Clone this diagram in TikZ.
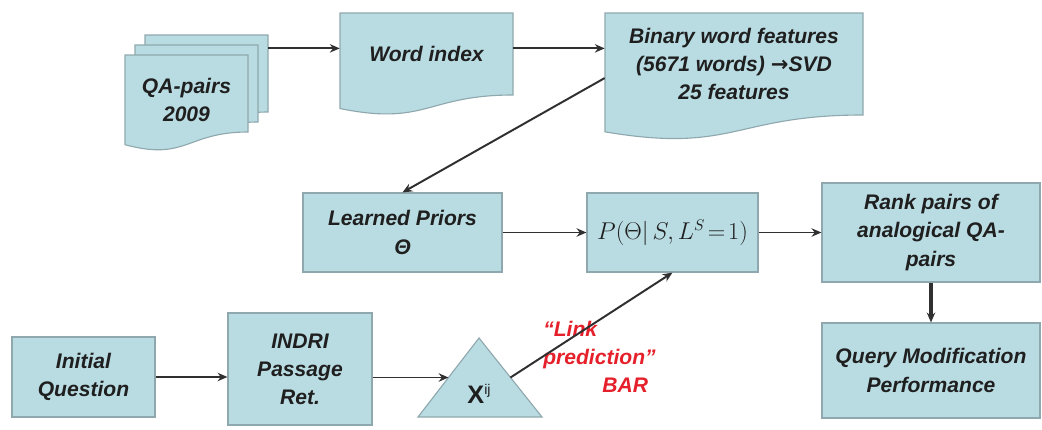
\documentclass[tikz,border=0pt]{standalone}
\usepackage{fontspec}
\setmainfont{Liberation Sans}
\newfontfamily\arrowfont{DejaVu Sans}
\usetikzlibrary{arrows.meta,calc}

\definecolor{boxfill}{HTML}{B9DCE3}
\definecolor{boxline}{HTML}{8FA8AD}
\definecolor{arrowgray}{HTML}{303030}
\definecolor{linkred}{HTML}{E5202B}

% document shape: left, top, right, bottom (right end of the wave)
\newcommand{\wavedoc}[4]{%
    \path[docbox] (#1,#2) -- (#3,#2) -- (#3,#4)
        .. controls ({(#1+#3)/2},#4) and ({(#1+#3)/2},{#4+0.38*(#4-#2)})
        .. (#1,{#4+0.165*(#4-#2)}) -- cycle;}

\begin{document}
\begin{tikzpicture}[
                x=0.025cm, y=-0.025cm,
                docbox/.style={
                    fill=boxfill, draw=boxline, line width=0.8pt
                },
                textbox/.style={
                    inner sep=0pt, align=center, text=black!88,
                    font=\fontsize{15}{20}\selectfont\bfseries\itshape
                },
                stepbox/.style={
                    textbox, fill=boxfill, draw=boxline, line width=0.8pt
                },
                flow/.style={
                    draw=arrowgray, line width=1.4pt, -{Stealth[length=7pt,width=6pt]}
                }
            ]
            \useasboundingbox (0,0) rectangle (1042,429);

            % documents
            \wavedoc{145}{35}{268}{112}
            \wavedoc{135}{45}{258}{122}
            \wavedoc{125}{55}{248}{132}
            \wavedoc{340}{13}{513}{95}
            \wavedoc{605}{13}{863}{115}
            \node[textbox, minimum width=3.075cm, minimum height=1.925cm] (qa3) at (206.5,73.5) {};
            \node[textbox, minimum width=3.075cm, minimum height=2.25cm] (qa) at (186.5,100) {QA-pairs\\2009};
            \node[textbox, minimum width=4.325cm, minimum height=2.05cm] (word) at (426.5,54) {Word index};
            \node[textbox, minimum width=6.45cm, minimum height=2.55cm] (bin) at (734,64)
                {Binary word features\\(5671 words) {\arrowfont\bfseries →}SVD\\25 features};

            % boxes
            \node[stepbox, minimum width=4.975cm, minimum height=1.975cm] (prior) at (402.5,232.5) {Learned Priors\\Θ};
            \node[stepbox, minimum width=4.275cm, minimum height=1.975cm, font=\fontsize{16}{20}\selectfont] (post) at (672.5,232.5)
                {$P(\Theta|\,S,L^{S}\!=\!1)$};
            \node[stepbox, minimum width=5.45cm, minimum height=2.475cm] (rank) at (931,232.5) {Rank pairs of\\analogical QA-\\pairs};
            \node[stepbox, minimum width=5.45cm, minimum height=2.375cm] (qmod) at (931,370.5) {Query Modification\\Performance};
            \node[stepbox, minimum width=3.575cm, minimum height=2cm] (init) at (83.5,377) {Initial\\Question};
            \node[stepbox, minimum width=3.6cm, minimum height=2.8cm] (indri) at (300,369) {INDRI\\Passage\\Ret.};

            % triangle
            \coordinate (tapex) at (479,338);
            \coordinate (tleft) at (418,417);
            \coordinate (tright) at (542,417);
            \path[docbox] (tapex) -- (tleft) -- (tright) -- cycle;
            \coordinate (tin) at ($(tapex)!0.5!(tleft)$);
            \coordinate (tout) at ($(tapex)!0.5!(tright)$);
            \node[inner sep=0pt, text=black!88] (xij) at (479,394)
                {{\fontsize{18}{20}\selectfont\bfseries X}\raisebox{6pt}{\fontsize{10}{12}\selectfont ij}};

            \node[textbox, align=left, anchor=west, text=linkred] (linktxt) at (543,357)
                {“Link\\prediction”\\\hspace*{42pt}BAR};

            % arrows
            \draw[flow] ([yshift=4pt]word.west -| qa3.east) -- ([yshift=4pt]word.west);
            \draw[flow] ([yshift=4pt]word.east) -- ([yshift=4pt]word.east -| bin.west);
            \draw[flow] ([yshift=-10pt]bin.west) -- (prior.north);
            \draw[flow] (prior) -- (post);
            \draw[flow] (post) -- (rank);
            \draw[flow, line width=2.2pt] (rank) -- (qmod);
            \draw[flow] (init.east) -- (init.east -| indri.west);
            \draw[flow] (tin -| indri.east) -- (tin);
            \draw[flow] (tout) -- (post.south);
            \end{tikzpicture}
\end{document}
